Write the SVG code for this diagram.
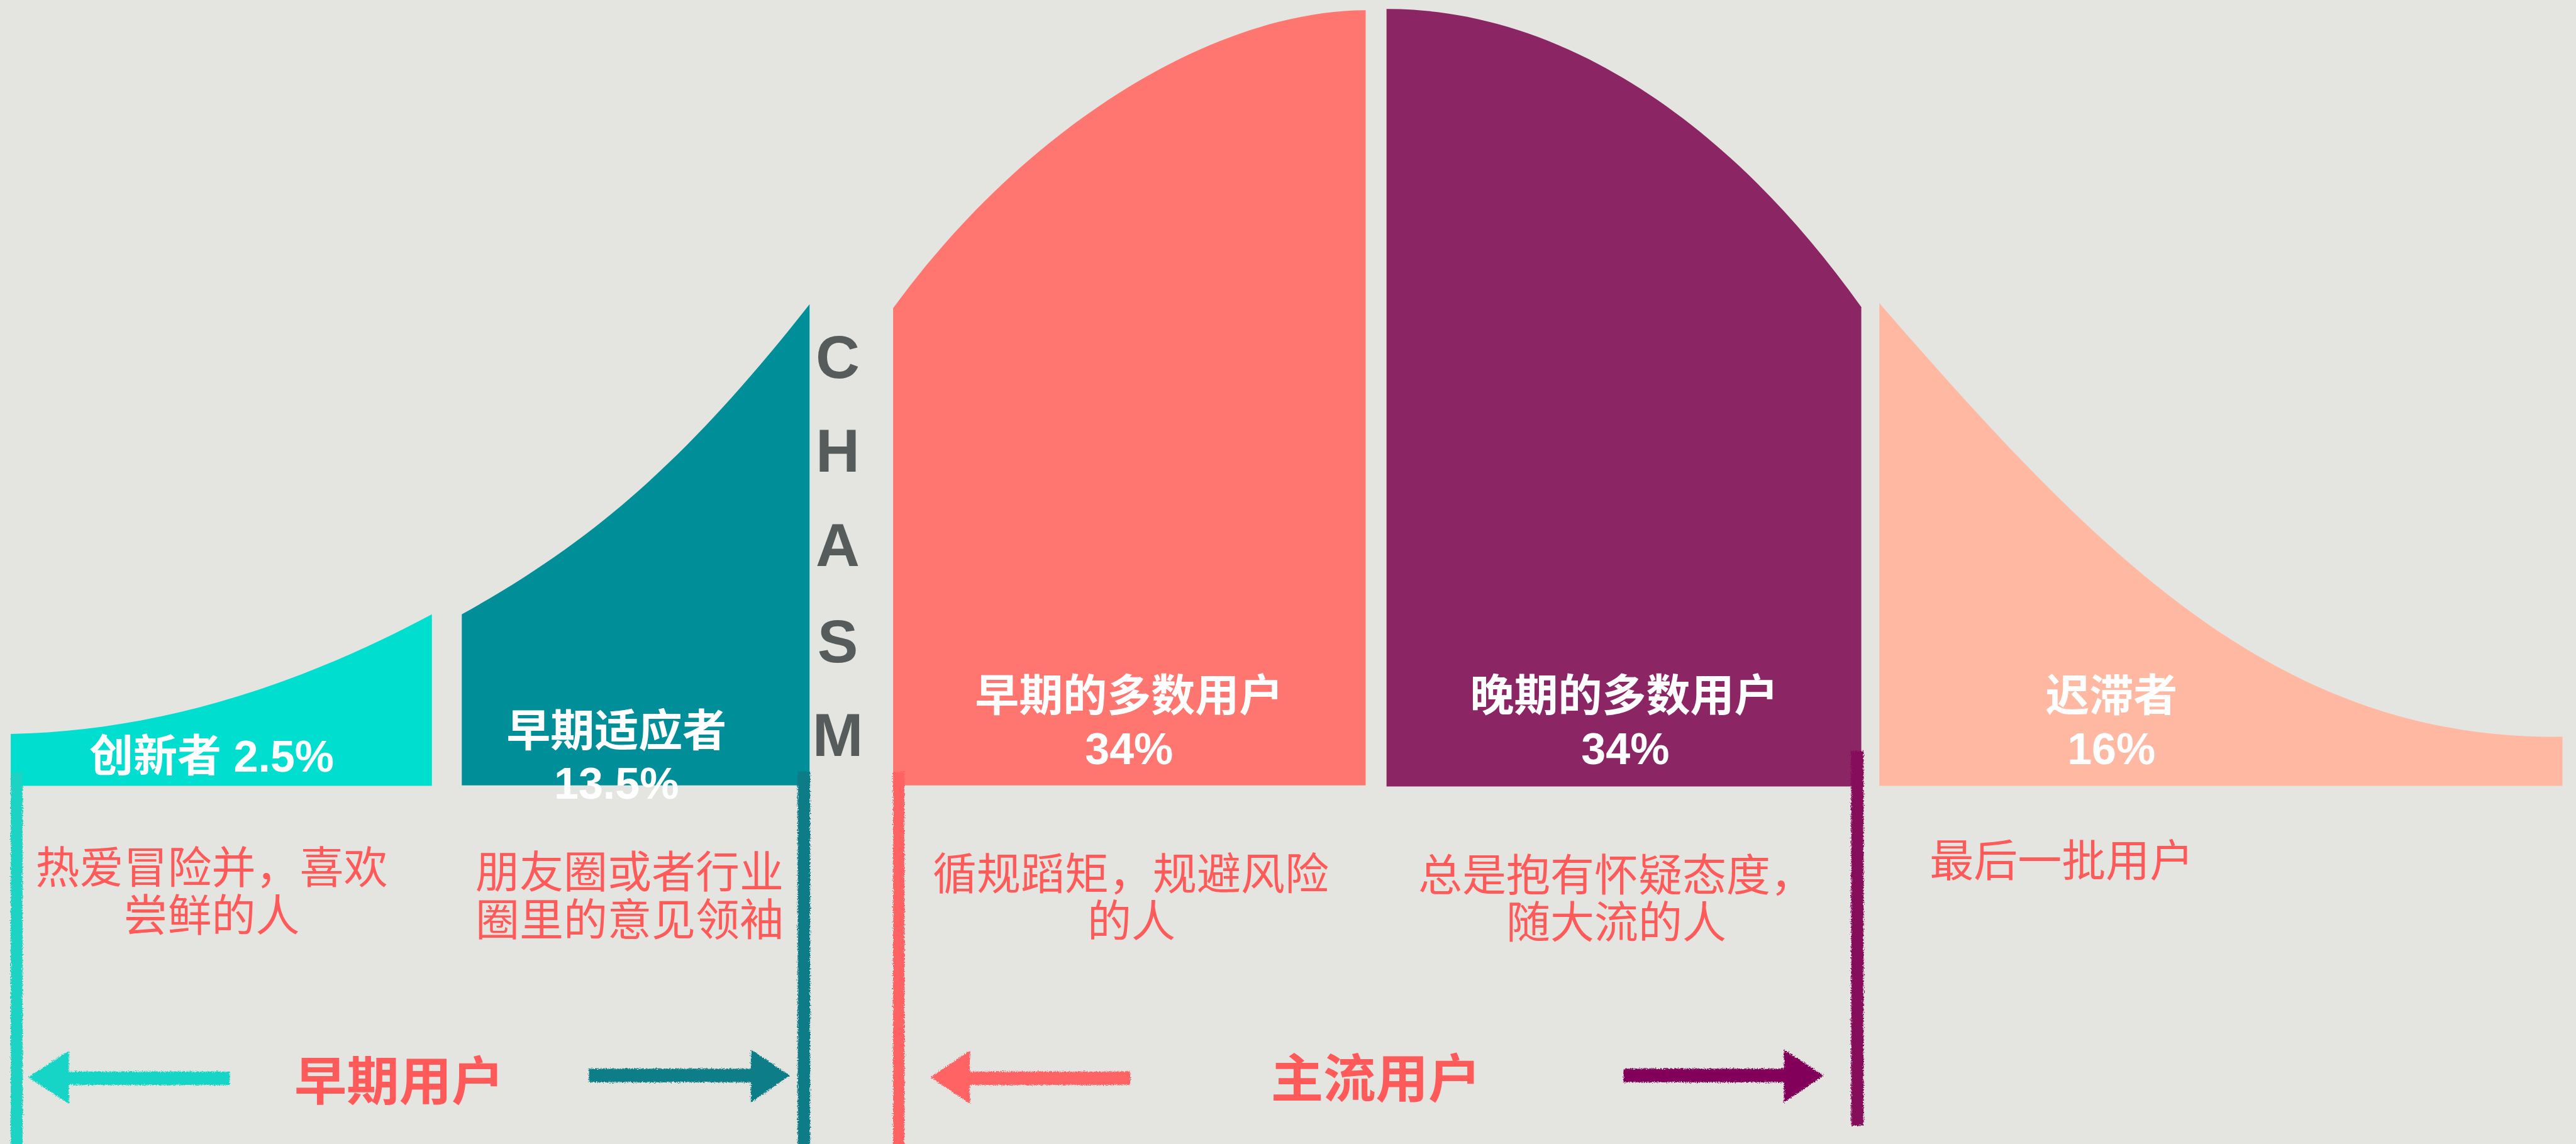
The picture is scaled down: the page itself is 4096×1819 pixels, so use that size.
<svg xmlns="http://www.w3.org/2000/svg" width="4096" height="1819" viewBox="0 0 4096 1819">
<defs>
<style>
.lbl{font-family:"Liberation Sans","Noto Sans CJK SC",sans-serif;font-weight:700;font-size:78px;fill:#FFFFFF;text-anchor:middle}
.desc{font-family:"Noto Sans CJK SC",sans-serif;font-weight:400;font-size:78px;fill:#FF5A5A;text-anchor:middle}
.grp{font-family:"Noto Sans CJK SC",sans-serif;font-weight:700;font-size:93px;fill:#FF5A5A;text-anchor:middle}
.chasm{font-family:"Liberation Sans",Arial,sans-serif;font-weight:700;font-size:108px;fill:#565B5B;text-anchor:middle}
</style>
<filter id="chalk" x="-60%" y="-10%" width="220%" height="120%">
<feTurbulence type="fractalNoise" baseFrequency="0.5" numOctaves="2" seed="4" result="n"/>
<feDisplacementMap in="SourceGraphic" in2="n" scale="8" xChannelSelector="R" yChannelSelector="G"/>
</filter>
</defs>
<rect x="0" y="0" width="4096" height="1819" fill="#E4E5E0"/>
<g transform="scale(0.89766)">
<g id="innovators">
<path d="M19,1300 C250,1296 500,1230 765,1088 L765,1392 L19,1392 Z" fill="#00DFCF"/>
<text class="lbl" x="375" y="1367">创新者 2.5%</text>
<text class="desc" x="375" y="1565">热爱冒险并，喜欢<tspan x="375" dy="85">尝鲜的人</tspan></text>
</g>
<g id="early-adopters">
<path d="M818,1088 C1068,950 1234,793 1434,539 L1434,1391 L818,1391 Z" fill="#008E99"/>
<text class="lbl" x="1092" y="1322">早期适应者<tspan x="1092" dy="93">13.5%</tspan></text>
<text class="desc" x="1115" y="1573">朋友圈或者行业<tspan x="1115" dy="85">圈里的意见领袖</tspan></text>
</g>
<g id="chasm">
<text class="chasm" x="1484" y="669">C</text>
<text class="chasm" x="1484" y="836">H</text>
<text class="chasm" x="1484" y="1003">A</text>
<text class="chasm" x="1484" y="1173">S</text>
<text class="chasm" x="1484" y="1339">M</text>
</g>
<g id="early-majority">
<path d="M1582,546 C1832,203 2169,18 2419,18 L2419,1391 L1582,1391 Z" fill="#FF7570"/>
<text class="lbl" x="2000" y="1260">早期的多数用户<tspan x="2000" dy="93">34%</tspan></text>
<text class="desc" x="2003" y="1576">循规蹈矩，规避风险<tspan x="2004" dy="84">的人</tspan></text>
</g>
<g id="late-majority">
<path d="M2456,16 C2725,15 3030,170 3297,544 L3297,1393 L2456,1393 Z" fill="#8C2563"/>
<text class="lbl" x="2877" y="1260">晚期的多数用户<tspan x="2879" dy="93">34%</tspan></text>
<text class="desc" x="2863" y="1579">总是抱有怀疑态度，<tspan x="2863" dy="83">随大流的人</tspan></text>
</g>
<g id="laggards">
<path d="M3329,537 C3729,997 4039,1310 4539,1305 L4539,1392 L3329,1392 Z" fill="#FFB8A2"/>
<text class="lbl" x="3740" y="1260">迟滞者<tspan x="3740" dy="93">16%</tspan></text>
<text class="desc" x="3652" y="1553">最后一批用户</text>
</g>
<g id="early-users">
<text class="grp" x="707" y="1948">早期用户</text>
</g>
<g id="mainstream-users">
<text class="grp" x="2437" y="1944">主流用户</text>
</g>
<g id="connectors" filter="url(#chalk)">
<rect x="19" y="1368" width="21" height="670" fill="#1CD3C4"/>
<rect x="1413" y="1367" width="22" height="670" fill="#0F7C87"/>
<rect x="1582" y="1367" width="20" height="670" fill="#FF6262"/>
<rect x="3279" y="1330" width="22" height="664" fill="#860A5B"/>
<path d="M50,1908 L122,1861 L122,1898 L407,1898 L407,1922 L122,1922 L122,1955 Z" fill="#16D5C6"/>
<path d="M1399,1905 L1330,1859 L1330,1893 L1043,1893 L1043,1917 L1330,1917 L1330,1953 Z" fill="#0E7E88"/>
<path d="M1648,1908 L1718,1861 L1718,1898 L2002,1898 L2002,1922 L1718,1922 L1718,1955 Z" fill="#FF6363"/>
<path d="M3230,1905 L3160,1859 L3160,1893 L2876,1893 L2876,1917 L3160,1917 L3160,1953 Z" fill="#82065A"/>
</g>
</g>
</svg>
